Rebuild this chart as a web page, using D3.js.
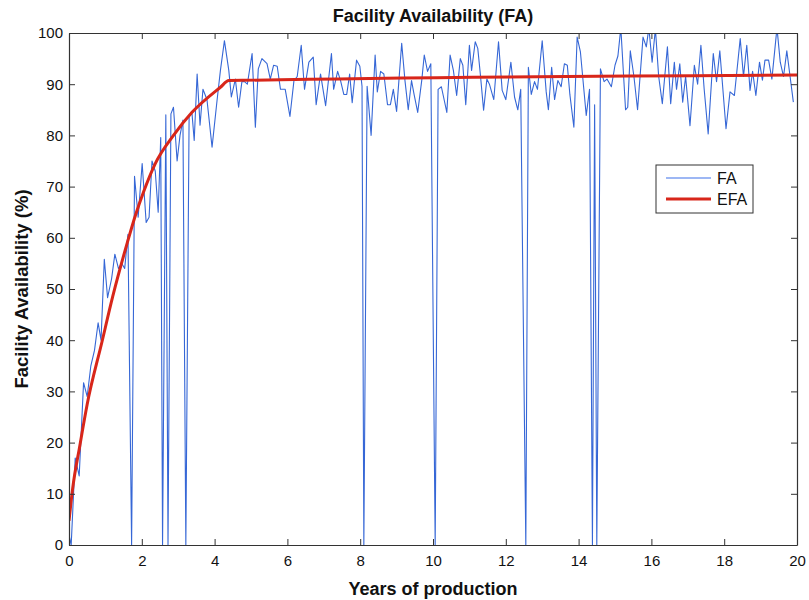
<!DOCTYPE html>
<html>
<head>
<meta charset="utf-8">
<script src="https://cdn.jsdelivr.net/npm/d3@7"></script>
<style>
  html, body { margin: 0; padding: 0; background: #ffffff; }
  svg { display: block; font-family: "Liberation Sans", Arial, sans-serif; }
</style>
</head>
<body>
<svg id="chart" width="809" height="600"></svg>
<script>
// ---- data ----
const faYears = [0.00,0.06,0.17,0.28,0.40,0.50,0.60,0.70,0.80,0.88,0.97,1.06,1.17,1.26,1.36,1.45,1.53,1.62,1.72,1.80,1.90,2.01,2.12,2.20,2.28,2.37,2.45,2.52,2.57,2.66,2.72,2.80,2.87,2.97,3.05,3.13,3.21,3.30,3.38,3.44,3.52,3.60,3.68,3.79,3.93,4.07,4.16,4.27,4.39,4.46,4.57,4.66,4.75,4.82,4.90,5.03,5.12,5.20,5.30,5.44,5.53,5.62,5.72,5.81,5.94,6.07,6.18,6.27,6.38,6.47,6.59,6.71,6.79,6.91,7.05,7.21,7.27,7.38,7.46,7.55,7.63,7.71,7.78,7.90,7.99,8.05,8.10,8.19,8.30,8.41,8.47,8.56,8.65,8.75,8.83,8.91,9.00,9.14,9.23,9.32,9.41,9.48,9.58,9.69,9.76,9.85,9.94,10.06,10.14,10.23,10.38,10.47,10.56,10.65,10.75,10.82,10.90,11.00,11.06,11.16,11.23,11.30,11.39,11.48,11.55,11.67,11.80,11.90,12.00,12.14,12.24,12.33,12.41,12.55,12.62,12.70,12.79,12.87,13.00,13.11,13.17,13.26,13.34,13.43,13.52,13.61,13.69,13.76,13.87,13.96,14.05,14.21,14.30,14.38,14.44,14.50,14.60,14.70,14.78,14.90,15.00,15.08,15.16,15.29,15.35,15.42,15.52,15.62,15.77,15.86,15.93,16.02,16.11,16.20,16.30,16.44,16.53,16.63,16.69,16.78,16.86,16.94,17.06,17.18,17.27,17.36,17.45,17.56,17.70,17.79,17.88,18.05,18.16,18.28,18.44,18.53,18.62,18.71,18.78,18.87,18.97,19.05,19.12,19.22,19.31,19.45,19.54,19.63,19.72,19.81,19.90];
const faValues = [2,0,17,13.5,31.7,29,35,38,43.4,40,55.8,48.3,52,56.8,54,55,54,60.7,0,72,64,74.5,63,64,75,73,65,79.6,0,84,0,84.2,85.5,75,80,83,0,84,84.2,79,92,82,89,87,77.7,87,92.7,98.5,92.7,87.5,91,85.5,90.5,90.5,90,96,81.6,93,95,94,91,93.7,93.5,89,89,83.7,90.7,91.5,97.6,89,94.3,95.3,86,92,85.8,96,89,92.5,90.7,88,88,92,86.4,94.7,93.5,89.6,0,89.6,80,95.7,88.5,92.5,92,86,86,89,84.7,98,90.7,85,90.7,88,84.5,90.7,95.7,92.5,94,0,89,89.5,84.5,95.7,92.7,87.8,95,93.7,86,97.6,92.7,98.3,97,92,84.9,91,90,87,98.3,88.8,87,94.3,87.5,85,89,0,93.3,88,90.5,89,98.5,88.5,85,93.3,87,90.7,89.5,94,93.7,88,81.6,99.2,96.3,83.9,89,0,86,0,93,90.5,91,89.5,93.7,95.5,101,85,85.5,96.5,91.5,85,99.2,97.3,101,94.3,100.8,91.5,86.2,97.3,86.2,94.3,89,94,86.5,91.5,81.9,93.7,90,97.6,89,80.3,96,90.5,96.5,81.3,88.5,87.8,98.9,91.5,97.6,88.8,92.5,87.8,94.3,90.8,94.7,94.7,91,101,94.3,91.5,96.5,91.5,86.5];
const efaYears = [0,0.1,0.3,0.5,0.9,1.2,1.6,1.83,2.05,2.37,2.87,3.38,4.16,4.39,20];
const efaValues = [4.7,11,19.5,27.5,39.5,48.5,59,64.5,69,74.5,80,84.5,89.4,90.7,91.8];
const xTicks = [0,2,4,6,8,10,12,14,16,18,20];
const yTicks = [0,10,20,30,40,50,60,70,80,90,100];
const seriesNames = ["FA","EFA"];
const chartTitle = "Facility Availability (FA)";
const xTitle = "Years of production";
const yTitle = "Facility Availability (%)";

// ---- layout ----
const svg = d3.select("#chart");
const L = 69, R = 797, T = 33, B = 545;
const x = d3.scaleLinear().domain([0,20]).range([L,R]);
const y = d3.scaleLinear().domain([0,100]).range([B,T]);

const blue = "#3667d6", red = "#d8261a";

svg.append("defs").append("clipPath").attr("id","plotclip")
  .append("rect").attr("x",L).attr("y",T).attr("width",R-L).attr("height",B-T);

// data lines
const fa = faYears.map((d,i)=>[d, faValues[i]]);
const efa = efaYears.map((d,i)=>[d, efaValues[i]]);
const line = d3.line().x(d=>x(d[0])).y(d=>y(d[1]));
const smooth = d3.line().x(d=>x(d[0])).y(d=>y(d[1])).curve(d3.curveMonotoneX);

const plot = svg.append("g").attr("clip-path","url(#plotclip)");
plot.append("path").datum(fa).attr("d",line)
  .attr("fill","none").attr("stroke",blue).attr("stroke-width",1.1).attr("stroke-linejoin","round");
plot.append("path").datum(efa).attr("d",smooth)
  .attr("fill","none").attr("stroke",red).attr("stroke-width",3).attr("stroke-linejoin","round");

// axes (MATLAB style, ticks inside, box)
const axColor = "#333";
const tl = 6;
const gx = svg.append("g").attr("transform",`translate(0,${B})`)
  .call(d3.axisBottom(x).tickValues(xTicks).tickSizeInner(-tl).tickSizeOuter(0).tickPadding(10).tickFormat(d3.format("d")));
const gxTop = svg.append("g").attr("transform",`translate(0,${T})`)
  .call(d3.axisTop(x).tickValues(xTicks).tickSizeInner(-tl).tickSizeOuter(0).tickFormat(""));
const gy = svg.append("g").attr("transform",`translate(${L},0)`)
  .call(d3.axisLeft(y).tickValues(yTicks).tickSizeInner(-tl).tickSizeOuter(0).tickPadding(6).tickFormat(d3.format("d")));
const gyR = svg.append("g").attr("transform",`translate(${R},0)`)
  .call(d3.axisRight(y).tickValues(yTicks).tickSizeInner(-tl).tickSizeOuter(0).tickFormat(""));
[gx,gxTop,gy,gyR].forEach(g=>{
  g.select(".domain").attr("stroke",axColor).attr("stroke-width",1.2);
  g.selectAll(".tick line").attr("stroke",axColor).attr("stroke-width",1);
  g.selectAll(".tick text").attr("fill","#111").style("font-size","15px")
    .style("font-family","'Liberation Sans', Arial, sans-serif");
});
gx.selectAll(".tick text").attr("dy","0.71em");

// titles
svg.append("text").attr("x",(L+R)/2).attr("y",22).attr("text-anchor","middle")
  .style("font-size","18px").style("font-weight","bold").attr("fill","#111").text(chartTitle);
svg.append("text").attr("x",(L+R)/2).attr("y",595).attr("text-anchor","middle")
  .style("font-size","18px").style("font-weight","bold").attr("fill","#111").text(xTitle);
svg.append("text").attr("transform",`translate(28,${(T+B)/2}) rotate(-90)`).attr("text-anchor","middle")
  .style("font-size","18.5px").style("font-weight","bold").attr("fill","#111").text(yTitle);

// legend
const lg = svg.append("g").attr("transform","translate(656,165)");
lg.append("rect").attr("width",97).attr("height",48).attr("fill","#fff").attr("stroke","#333").attr("stroke-width",1);
const items = [{name:seriesNames[0], c:"#7d9ff0", w:1.5},{name:seriesNames[1], c:red, w:3}];
items.forEach((it,i)=>{
  const yy = 13 + i*21;
  lg.append("line").attr("x1",10).attr("x2",55).attr("y1",yy).attr("y2",yy).attr("stroke",it.c).attr("stroke-width",it.w);
  lg.append("text").attr("x",61).attr("y",yy+5.5).style("font-size","16px").attr("fill","#111").text(it.name);
});
</script>
</body>
</html>
